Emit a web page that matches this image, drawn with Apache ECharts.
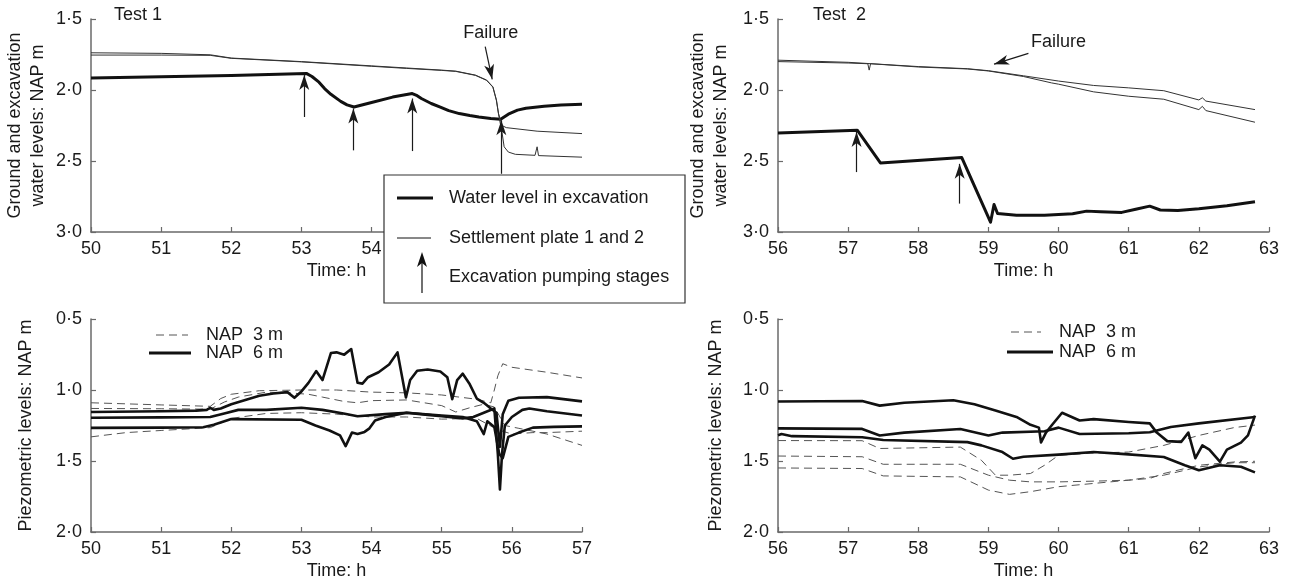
<!DOCTYPE html>
<html>
<head>
<meta charset="utf-8">
<script src="https://cdn.jsdelivr.net/npm/echarts@6/dist/echarts.min.js"></script>
<style>
  html, body { margin: 0; padding: 0; background: #fff; }
  #chart { width: 1295px; height: 585px; }
</style>
</head>
<body>
<div id="chart"></div>
<script>
// ---- Test 1: excavation water level and settlement plates (NAP m, time in h) ----
const test1Water = [[50.0,1.916],[51.0,1.907],[52.0,1.898],[53.07,1.883],[53.15,1.905],[53.25,1.945],[53.33,1.99],[53.42,2.03],[53.56,2.08],[53.65,2.105],[53.75,2.12],[54.0,2.088],[54.3,2.05],[54.58,2.025],[54.65,2.04],[54.71,2.06],[54.85,2.095],[54.98,2.12],[55.1,2.145],[55.25,2.166],[55.4,2.18],[55.53,2.19],[55.7,2.2],[55.84,2.206],[55.95,2.17],[56.08,2.142],[56.2,2.128],[56.46,2.114],[56.7,2.105],[57.0,2.10]];
const test1Plate1 = [[50,1.738],[51.0,1.742],[51.7,1.752],[52,1.775],[53,1.80],[54,1.83],[54.5,1.845],[55,1.86],[55.2,1.867],[55.48,1.895],[55.64,1.93],[55.73,1.978],[55.78,2.07],[55.81,2.166],[55.86,2.25],[55.92,2.265],[56.36,2.29],[57,2.307]];
const test1Plate2 = [[50,1.754],[51,1.754],[51.7,1.756],[52,1.777],[53,1.802],[54,1.833],[54.5,1.848],[55,1.862],[55.2,1.869],[55.48,1.897],[55.64,1.932],[55.73,1.98],[55.78,2.075],[55.81,2.17],[55.86,2.3],[55.89,2.40],[55.95,2.437],[56.05,2.453],[56.33,2.46],[56.36,2.40],[56.38,2.462],[57,2.473]];
// pumping stages: [time, shaft bottom level, arrow tip level]
const test1Stages = [[53.04,2.19,1.895],[53.74,2.425,2.13],[54.58,2.43,2.06],[55.85,2.59,2.213]];
// failure arrow: [x0, y0, x1, y1] and label position
const test1Failure = [55.62,1.695,55.72,1.925];
const test1FailureLabel = [55.7,1.60];

// ---- Test 2 ----
const test2Water = [[56,2.302],[57.13,2.283],[57.46,2.514],[58.62,2.476],[59.03,2.931],[59.08,2.806],[59.13,2.87],[59.4,2.882],[59.8,2.882],[60.2,2.872],[60.4,2.853],[60.6,2.857],[60.9,2.862],[61.1,2.84],[61.3,2.818],[61.45,2.845],[61.7,2.848],[62.0,2.836],[62.4,2.815],[62.8,2.787]];
const test2Plate1 = [[56,1.79],[57,1.805],[58,1.835],[58.7,1.85],[59,1.864],[59.5,1.9],[60,1.937],[60.5,1.968],[61,1.985],[61.5,2.005],[62,2.07],[62.05,2.055],[62.1,2.078],[62.8,2.138]];
const test2Plate2 = [[56,1.80],[57,1.81],[57.28,1.815],[57.3,1.86],[57.32,1.815],[58,1.838],[58.7,1.852],[59,1.866],[59.5,1.905],[59.9,1.95],[60,1.959],[60.5,2.013],[61,2.044],[61.5,2.065],[62,2.138],[62.05,2.115],[62.1,2.145],[62.8,2.227]];
const test2Stages = [[57.12,2.578,2.295],[58.59,2.80,2.52]];
const test2Failure = [59.57,1.742,59.08,1.818];
const test2FailureLabel = [60.0,1.66];

// ---- Test 1 piezometers ----
const pz1Nap6A = [[50,1.155],[51,1.15],[51.5,1.145],[51.65,1.14],[51.7,1.125],[51.75,1.14],[51.85,1.13],[52.0,1.10],[52.2,1.07],[52.4,1.04],[52.6,1.025],[52.8,1.015],[52.9,1.055],[53.0,1.01],[53.1,0.95],[53.21,0.867],[53.3,0.93],[53.42,0.74],[53.5,0.735],[53.61,0.751],[53.71,0.712],[53.8,0.949],[53.87,0.955],[53.95,0.91],[54.1,0.875],[54.25,0.82],[54.37,0.735],[54.49,1.053],[54.55,0.93],[54.65,0.865],[54.8,0.856],[54.98,0.87],[55.08,0.91],[55.15,1.065],[55.22,0.93],[55.3,0.885],[55.4,0.96],[55.5,1.06],[55.6,1.09],[55.7,1.13],[55.78,1.16],[55.83,1.40],[55.87,1.17],[55.95,1.075],[56.1,1.055],[56.5,1.05],[57,1.08]];
const pz1Nap6B = [[50,1.195],[51,1.193],[51.7,1.19],[51.9,1.165],[52.1,1.14],[52.5,1.14],[53.0,1.125],[53.3,1.14],[53.6,1.165],[53.8,1.185],[54.2,1.17],[54.5,1.16],[54.8,1.175],[55.0,1.185],[55.3,1.2],[55.45,1.19],[55.6,1.16],[55.75,1.13],[55.8,1.45],[55.83,1.70],[55.86,1.45],[55.9,1.25],[56.0,1.19],[56.15,1.14],[56.25,1.13],[56.5,1.15],[57,1.18]];
const pz1Nap6C = [[50,1.267],[51,1.265],[51.6,1.262],[51.75,1.245],[52.0,1.205],[53.0,1.21],[53.2,1.25],[53.4,1.285],[53.55,1.32],[53.63,1.395],[53.72,1.30],[53.8,1.31],[53.9,1.295],[53.97,1.27],[54.05,1.215],[54.2,1.19],[54.5,1.16],[55,1.18],[55.3,1.19],[55.5,1.22],[55.6,1.31],[55.65,1.22],[55.75,1.26],[55.82,1.45],[55.87,1.48],[55.95,1.33],[56.1,1.30],[56.3,1.265],[56.6,1.26],[57,1.256]];
const pz1Nap3A = [[50,1.09],[51.0,1.105],[51.7,1.115],[51.85,1.06],[52.0,1.03],[52.4,1.005],[53.0,1.0],[53.5,1.0],[54.0,1.015],[54.5,1.02],[55.0,1.035],[55.5,1.065],[55.7,1.09],[55.75,1.0],[55.8,0.9],[55.87,0.815],[56.0,0.84],[56.5,0.875],[57.0,0.915]];
const pz1Nap3B = [[50,1.13],[51.0,1.132],[51.7,1.135],[51.9,1.085],[52.1,1.05],[52.5,1.015],[52.8,1.02],[53.1,1.03],[53.3,1.05],[53.6,1.08],[53.8,1.09],[54.0,1.075],[54.5,1.07],[55.0,1.11],[55.2,1.155],[55.4,1.125],[55.6,1.1],[55.75,1.12],[55.9,1.25],[56.1,1.27],[56.5,1.31],[57,1.39]];
const pz1Nap3C = [[50,1.33],[50.5,1.30],[51.0,1.285],[51.7,1.265],[52.0,1.2],[52.5,1.165],[53.0,1.16],[53.5,1.17],[54.0,1.19],[54.5,1.19],[55.0,1.205],[55.5,1.2],[55.8,1.28],[56.0,1.31],[56.3,1.3],[56.5,1.3],[57,1.29]];

// ---- Test 2 piezometers ----
const pz2Nap6A = [[56,1.081],[57.2,1.077],[57.45,1.11],[57.8,1.09],[58.5,1.072],[58.8,1.10],[59.1,1.145],[59.4,1.19],[59.6,1.245],[59.72,1.265],[59.75,1.37],[59.82,1.30],[59.9,1.25],[60.05,1.16],[60.3,1.215],[60.5,1.205],[61.0,1.225],[61.3,1.235],[61.4,1.30],[61.55,1.36],[61.75,1.365],[61.85,1.30],[61.95,1.48],[62.05,1.39],[62.15,1.42],[62.3,1.505],[62.4,1.42],[62.6,1.37],[62.7,1.32],[62.8,1.18]];
const pz2Nap6B = [[56,1.27],[57.2,1.274],[57.45,1.32],[57.8,1.30],[58.6,1.275],[59.0,1.32],[59.2,1.30],[59.8,1.29],[60.0,1.265],[60.3,1.31],[61.0,1.305],[61.3,1.297],[61.6,1.26],[62.0,1.235],[62.8,1.19]];
const pz2Nap6C = [[56,1.318],[56.05,1.31],[56.2,1.325],[57.2,1.333],[57.5,1.352],[58.7,1.367],[58.9,1.39],[59.2,1.437],[59.35,1.484],[59.5,1.47],[60.0,1.455],[60.5,1.437],[60.9,1.45],[61.5,1.472],[61.8,1.53],[62.0,1.565],[62.3,1.53],[62.6,1.54],[62.8,1.58]];
const pz2Nap3A = [[56,1.356],[57.2,1.357],[57.45,1.412],[58.6,1.402],[58.9,1.495],[59.1,1.6],[59.3,1.6],[59.6,1.588],[59.8,1.53],[60,1.46],[60.5,1.444],[61,1.437],[61.5,1.39],[62,1.32],[62.5,1.265],[62.8,1.247]];
const pz2Nap3B = [[56,1.465],[57.2,1.47],[57.5,1.523],[58.6,1.523],[59.0,1.6],[59.3,1.635],[59.6,1.647],[60,1.647],[60.5,1.642],[61,1.635],[61.3,1.623],[61.5,1.588],[62,1.53],[62.5,1.507],[62.8,1.502]];
const pz2Nap3C = [[56,1.549],[57.2,1.553],[57.5,1.605],[58.6,1.612],[59.0,1.705],[59.3,1.735],[59.6,1.716],[60,1.681],[60.5,1.658],[61,1.635],[61.5,1.6],[62,1.542],[62.5,1.512],[62.8,1.512]];

// axis ranges and labels
const timeRange1 = [50, 57];
const timeRange2 = [56, 63];
const levelRangeTop = [1.5, 3.0];
const levelRangeBottom = [0.5, 2.0];
const topYName = 'Ground and excavation\nwater levels: NAP m';
const bottomYName = 'Piezometric levels: NAP m';
const xName = 'Time: h';
const legendTop = ['Water level in excavation', 'Settlement plate 1 and 2', 'Excavation pumping stages'];
const legendBottom = ['NAP  3 m', 'NAP  6 m'];

const FONT = '"Liberation Sans", Arial, Helvetica, sans-serif';
const INK = '#1a1a1a';
const AXIS = '#6a6a6a';
const HEAD = 'path://M5,0L10,15L5,11L0,15Z';

const grids = [
  { left: 91,  top: 19,  width: 491, height: 213 },
  { left: 778, top: 19,  width: 491, height: 213 },
  { left: 91,  top: 319, width: 491, height: 213 },
  { left: 778, top: 319, width: 491, height: 213 }
].map(g => Object.assign({ containLabel: false, outerBoundsMode: 'none' }, g));

const dotFmt = v => v.toFixed(1).replace('.', '\u00b7');

function xAxis(gridIndex, range) {
  return {
    type: 'value', gridIndex, min: range[0], max: range[1], interval: 1,
    name: xName, nameLocation: 'middle', nameGap: 30,
    nameTextStyle: { fontFamily: FONT, fontSize: 18, color: INK },
    axisLine: { lineStyle: { color: AXIS, width: 1.5 } },
    axisTick: { inside: true, length: 5, lineStyle: { color: AXIS, width: 1.2 } },
    axisLabel: { fontFamily: FONT, fontSize: 18, color: INK, margin: 8, showMinLabel: true, showMaxLabel: true, hideOverlap: false },
    splitLine: { show: false }
  };
}

function yAxis(gridIndex, range, name, gap) {
  return {
    type: 'value', gridIndex, min: range[0], max: range[1], interval: 0.5, inverse: true,
    name, nameLocation: 'middle', nameGap: gap, nameRotate: 90, nameMoveOverlap: false,
    nameTextStyle: { fontFamily: FONT, fontSize: 18, color: INK, lineHeight: 23 },
    axisLine: { lineStyle: { color: AXIS, width: 1.5 } },
    axisTick: { inside: true, length: 5, lineStyle: { color: AXIS, width: 1.2 } },
    axisLabel: { fontFamily: FONT, fontSize: 18, color: INK, margin: 9, formatter: dotFmt, showMinLabel: true, showMaxLabel: true, hideOverlap: false },
    splitLine: { show: false }
  };
}

function line(idx, data, width, color, dashed) {
  return {
    type: 'line', xAxisIndex: idx, yAxisIndex: idx, data,
    showSymbol: false, symbol: 'none', silent: true, animation: false,
    lineStyle: { width, color, type: dashed ? [8, 5] : 'solid', join: 'round' },
    z: dashed ? 2 : 3
  };
}

function arrowItem(x0, y0, x1, y1) {
  return [
    { coord: [x0, y0], symbol: 'none' },
    { coord: [x1, y1], symbol: HEAD, symbolSize: [10, 15], symbolOffset: [0, '50%'] }
  ];
}

function arrows(stages, failure) {
  const data = stages.map(s => arrowItem(s[0], s[1], s[0], s[2]));
  data.push(arrowItem(failure[0], failure[1], failure[2], failure[3]));
  return {
    silent: true, animation: false, symbol: ['none', HEAD],
    lineStyle: { color: INK, width: 1.2, type: 'solid' },
    itemStyle: { color: INK },
    label: { show: false }, emphasis: { disabled: true },
    data
  };
}

function failureLabel(pos) {
  return {
    silent: true, animation: false, symbol: 'circle', symbolSize: 1,
    itemStyle: { color: 'rgba(0,0,0,0)' },
    label: { show: true, position: 'inside', formatter: 'Failure', fontFamily: FONT, fontSize: 18, color: INK },
    data: [{ coord: pos }]
  };
}

const water1 = line(0, test1Water, 3, '#111');
water1.markLine = arrows(test1Stages, test1Failure);
water1.markPoint = failureLabel(test1FailureLabel);
const water2 = line(1, test2Water, 3, '#111');
water2.markLine = arrows(test2Stages, test2Failure);
water2.markPoint = failureLabel(test2FailureLabel);

const series = [
  water1,
  line(0, test1Plate1, 1, '#333'),
  line(0, test1Plate2, 1, '#333'),
  water2,
  line(1, test2Plate1, 1, '#333'),
  line(1, test2Plate2, 1, '#333'),
  line(2, pz1Nap3A, 1, '#555', true),
  line(2, pz1Nap3B, 1, '#555', true),
  line(2, pz1Nap3C, 1, '#555', true),
  line(2, pz1Nap6A, 2.6, '#111'),
  line(2, pz1Nap6B, 2.6, '#111'),
  line(2, pz1Nap6C, 2.6, '#111'),
  line(3, pz2Nap3A, 1, '#555', true),
  line(3, pz2Nap3B, 1, '#555', true),
  line(3, pz2Nap3C, 1, '#555', true),
  line(3, pz2Nap6A, 2.6, '#111'),
  line(3, pz2Nap6B, 2.6, '#111'),
  line(3, pz2Nap6C, 2.6, '#111')
];

const txt = (x, y, text) => ({
  type: 'text', x, y, z: 101, silent: true,
  style: { text, fontFamily: FONT, fontSize: 18, fill: INK, verticalAlign: 'middle', align: 'left' }
});
const seg = (x1, y1, x2, y2, w, dash) => ({
  type: 'line', z: 101, silent: true,
  shape: { x1, y1, x2, y2 },
  style: { stroke: dash ? '#555' : '#111', lineWidth: w, lineDash: dash ? [8, 5] : null }
});

const graphic = [
  // panel titles
  txt(114, 15, 'Test 1'),
  txt(813, 15, 'Test  2'),
  // key for the upper panels
  { type: 'rect', z: 100, silent: true, shape: { x: 384, y: 175, width: 301, height: 128 },
    style: { fill: '#fff', stroke: '#333', lineWidth: 1.2 } },
  seg(397, 198, 433, 198, 3),
  txt(449, 198, legendTop[0]),
  seg(397, 238, 431, 238, 1),
  txt(449, 238, legendTop[1]),
  seg(422, 260, 422, 293, 1.2),
  { type: 'polygon', z: 101, silent: true,
    shape: { points: [[422, 252], [427, 267], [422, 263], [417, 267]] },
    style: { fill: '#111' } },
  txt(449, 277, legendTop[2]),
  // key for the lower-left panel
  seg(156, 335, 188, 335, 1, true),
  txt(206, 335, legendBottom[0]),
  seg(149, 353, 191, 353, 3),
  txt(206, 353, legendBottom[1]),
  // key for the lower-right panel
  seg(1011, 332, 1041, 332, 1, true),
  txt(1059, 332, legendBottom[0]),
  seg(1007, 352, 1053, 352, 3),
  txt(1059, 352, legendBottom[1])
];

const option = {
  backgroundColor: '#fff',
  animation: false,
  textStyle: { fontFamily: FONT },
  grid: grids,
  xAxis: [xAxis(0, timeRange1), xAxis(1, timeRange2), xAxis(2, timeRange1), xAxis(3, timeRange2)],
  yAxis: [
    yAxis(0, levelRangeTop, topYName, 41),
    yAxis(1, levelRangeTop, topYName, 45),
    yAxis(2, levelRangeBottom, bottomYName, 53),
    yAxis(3, levelRangeBottom, bottomYName, 50)
  ],
  series,
  graphic
};

const chart = echarts.init(document.getElementById('chart'), null, { renderer: 'canvas' });
chart.setOption(option);
</script>
</body>
</html>
